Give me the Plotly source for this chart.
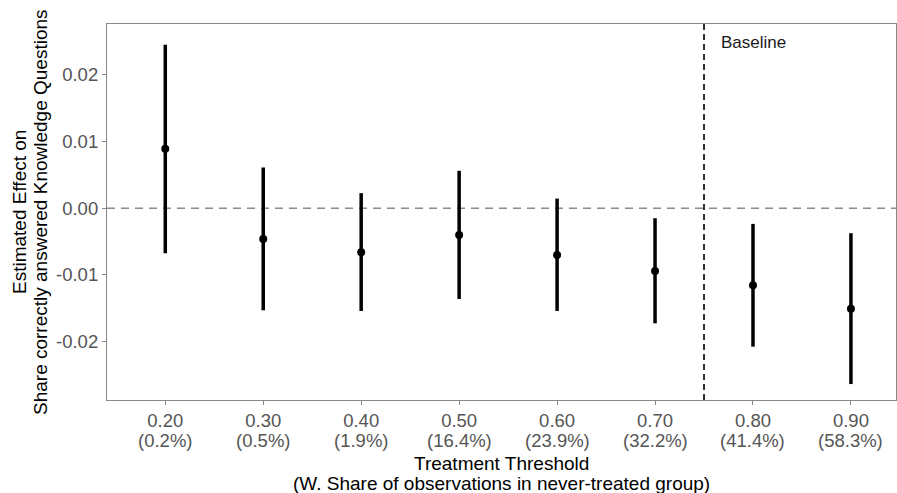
import plotly.graph_objects as go

thresholds = ["0.20", "0.30", "0.40", "0.50", "0.60", "0.70", "0.80", "0.90"]
shares = ["(0.2%)", "(0.5%)", "(1.9%)", "(16.4%)", "(23.9%)", "(32.2%)", "(41.4%)", "(58.3%)"]
estimates = [0.0089, -0.0046, -0.0066, -0.0040, -0.0070, -0.0094, -0.01155, -0.01505]
ci_upper = [0.0245, 0.0061, 0.00225, 0.0056, 0.00144, -0.0015, -0.00235, -0.00375]
ci_lower = [-0.00675, -0.0153, -0.0154, -0.0136, -0.0154, -0.01725, -0.02075, -0.02635]
baseline_pos = 6.5

FONT = "Liberation Sans, Arial"
TICK = 18.5
xpos = list(range(1, len(thresholds) + 1))

fig = go.Figure()
for x, lo, hi in zip(xpos, ci_lower, ci_upper):
    fig.add_trace(go.Scatter(x=[x, x], y=[lo, hi], mode="lines",
                             line=dict(color="black", width=3.5),
                             showlegend=False, hoverinfo="skip"))
fig.add_trace(go.Scatter(x=xpos, y=estimates, mode="markers",
                         marker=dict(color="black", size=8),
                         showlegend=False))

fig.add_hline(y=0, line=dict(color="#8c8c8c", width=1.5, dash="8px,6px"), layer="below")
fig.add_vline(x=baseline_pos, line=dict(color="black", width=1.6, dash="6px,4px"))

fig.add_annotation(x=baseline_pos, xref="x", xshift=15, y=0.0249, yref="y",
                   text="Baseline", showarrow=False, xanchor="left", yanchor="middle",
                   font=dict(family=FONT, size=17, color="#1a1a1a"))

# second line of each tick label (percent share)
for x, s in zip(xpos, shares):
    fig.add_annotation(x=x, xref="x", y=0, yref="paper", yshift=-40.5,
                       text=s, showarrow=False, xanchor="center", yanchor="middle",
                       font=dict(family=FONT, size=TICK, color="#555555"))

# axis titles (two lines each, tight line spacing)
fig.add_annotation(x=0.5, xref="paper", y=0, yref="paper", yshift=-63,
                   text="Treatment Threshold", showarrow=False,
                   xanchor="center", yanchor="middle",
                   font=dict(family=FONT, size=19, color="black"))
fig.add_annotation(x=0.5, xref="paper", y=0, yref="paper", yshift=-83,
                   text="(W. Share of observations in never-treated group)", showarrow=False,
                   xanchor="center", yanchor="middle",
                   font=dict(family=FONT, size=19, color="black"))
fig.add_annotation(x=0, xref="paper", xshift=-88, y=0.5, yref="paper",
                   text="Estimated Effect on", showarrow=False, textangle=-90,
                   xanchor="center", yanchor="middle",
                   font=dict(family=FONT, size=19, color="black"))
fig.add_annotation(x=0, xref="paper", xshift=-67, y=0.5, yref="paper",
                   text="Share correctly answered Knowledge Questions", showarrow=False,
                   textangle=-90, xanchor="center", yanchor="middle",
                   font=dict(family=FONT, size=19, color="black"))

fig.update_layout(
    width=897, height=493,
    margin=dict(l=107, r=1, t=24, b=93),
    plot_bgcolor="white", paper_bgcolor="white",
    font=dict(family=FONT, size=19, color="black"),
    xaxis=dict(
        range=[0.405, 8.46], tickvals=xpos, ticktext=thresholds,
        showgrid=False, zeroline=False, showline=True, mirror=True,
        linecolor="#888888", linewidth=1.2, ticks="outside", ticklen=4,
        tickcolor="#888888", tickfont=dict(size=TICK, color="#555555"),
    ),
    yaxis=dict(
        range=[-0.02874, 0.0276], tickvals=[-0.02, -0.01, 0.0, 0.01, 0.02],
        ticktext=["-0.02", "-0.01", "0.00", "0.01", "0.02"],
        showgrid=False, zeroline=False, showline=True, mirror=True,
        linecolor="#888888", linewidth=1.2, ticks="outside", ticklen=4,
        tickcolor="#888888", tickfont=dict(size=TICK, color="#555555"),
    ),
)

fig.write_html("out.html")
